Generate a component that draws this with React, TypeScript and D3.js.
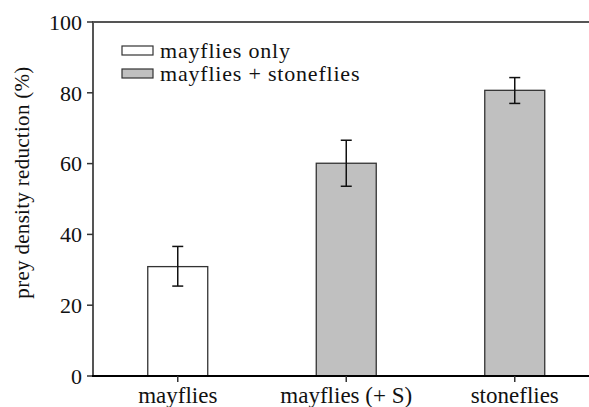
import React from 'react';
import * as d3 from 'd3';

// data
const categories = ['mayflies', 'mayflies (+ S)', 'stoneflies'];
const reduction = [30.9, 60.1, 80.7];
const errLow = [25.4, 53.6, 77.0];
const errHigh = [36.6, 66.6, 84.3];
const treatment = ['mayflies only', 'mayflies + stoneflies', 'mayflies + stoneflies'];
const legendLabels = ['mayflies only', 'mayflies + stoneflies'];
const yTicks = [0, 20, 40, 60, 80, 100];

const W = 589;
const H = 407;
const font = 'Liberation Serif';

export default function App() {
  const x = d3.scaleBand<string>()
    .domain(categories)
    .range([93.5, 599])
    .paddingInner(0.644)
    .paddingOuter(0.322);

  const y = d3.scaleLinear().domain([0, 100]).range([376, 22]);

  const fill = d3.scaleOrdinal<string, string>()
    .domain(legendLabels)
    .range(['#ffffff', '#c0c0c0']);

  const bw = x.bandwidth();
  const txt = { fontFamily: font };

  return (
    <svg width={W} height={H} style={{ position: 'absolute', left: 0, top: 0, background: '#fff' }}>
      {/* frame: top line and left axis */}
      <line x1={93} x2={W} y1={22} y2={22} stroke="#555" strokeWidth={2} />
      <line x1={93} x2={93} y1={21} y2={377} stroke="#555" strokeWidth={2} />

      {/* y ticks */}
      {yTicks.map(t => (
        <g key={t}>
          <line x1={87} x2={93} y1={y(t)} y2={y(t)} stroke="#333" strokeWidth={1.5} />
          <text x={82} y={y(t)} dy="0.35em" textAnchor="end" fontSize={22} style={txt} fill="#111">{t}</text>
        </g>
      ))}

      <text transform={`translate(29,${182.5}) rotate(-90)`} textAnchor="middle" fontSize={21}
        letterSpacing={0.3} style={txt} fill="#111">prey density reduction (%)</text>

      {/* bars */}
      {categories.map((c, i) => (
        <rect key={c} x={x(c)} y={y(reduction[i])} width={bw} height={y(0) - y(reduction[i])}
          fill={fill(treatment[i])} stroke="#333" strokeWidth={1.3} />
      ))}

      {/* error bars */}
      {categories.map((c, i) => {
        const cx = (x(c) as number) + bw / 2;
        return (
          <g key={c} stroke="#111" strokeWidth={1.5}>
            <line x1={cx} x2={cx} y1={y(errHigh[i])} y2={y(errLow[i])} />
            <line x1={cx - 5.5} x2={cx + 5.5} y1={y(errHigh[i])} y2={y(errHigh[i])} />
            <line x1={cx - 5.5} x2={cx + 5.5} y1={y(errLow[i])} y2={y(errLow[i])} />
          </g>
        );
      })}

      {/* x axis */}
      <line x1={92} x2={W} y1={376} y2={376} stroke="#000" strokeWidth={2} />
      {categories.map(c => {
        const cx = (x(c) as number) + bw / 2;
        return (
          <g key={c}>
            <line x1={cx} x2={cx} y1={376} y2={382} stroke="#333" strokeWidth={1.5} />
            <text x={cx} y={403} textAnchor="middle" fontSize={23} style={txt} fill="#111">{c}</text>
          </g>
        );
      })}

      {/* legend */}
      {legendLabels.map((l, i) => (
        <g key={l} transform={`translate(122,${46 + i * 23})`}>
          <rect x={0} y={0} width={31} height={9} fill={fill(l)} stroke="#333" strokeWidth={1.2} />
          <text x={38} y={4.5} dy="0.35em" fontSize={22} letterSpacing={0.8} style={txt} fill="#111">{l}</text>
        </g>
      ))}
    </svg>
  );
}
